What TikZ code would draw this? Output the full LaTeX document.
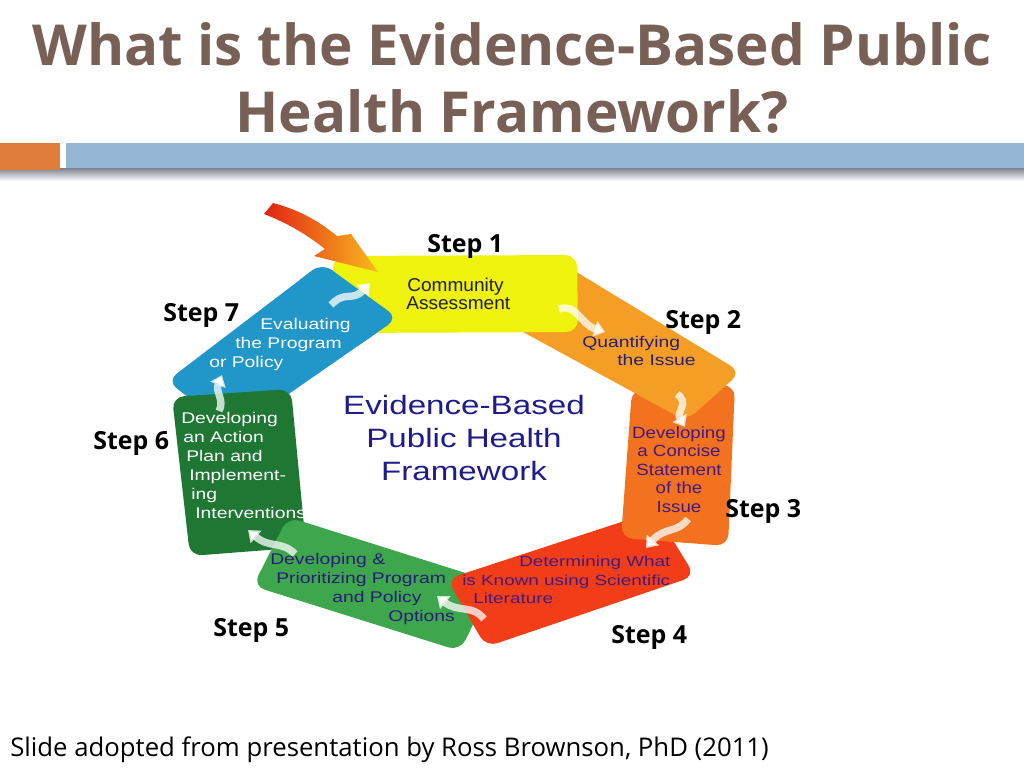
\documentclass[tikz,border=0pt]{standalone}
\usepackage{fontspec}
\setmainfont{Open Sans}
\newfontfamily\bxA{Liberation Sans}[FakeStretch=1.25]
\newfontfamily\bxB{Liberation Sans}[FakeStretch=1.03]
\newfontfamily\bxC{Liberation Sans}[FakeStretch=1.15]
\newfontfamily\bxD{Liberation Sans}[FakeStretch=1.3]
\newfontfamily\bxE{Liberation Sans}[FakeStretch=1.25]
\usetikzlibrary{arrows.meta}
\newlength\pxu \setlength\pxu{0.75pt}
\definecolor{titlecol}{RGB}{120,96,86}
\definecolor{barorange}{RGB}{224,125,60}
\definecolor{barblue}{RGB}{148,182,210}
\definecolor{barshadow}{RGB}{125,130,140}
\definecolor{cone}{RGB}{239,242,12}
\definecolor{ctwo}{RGB}{245,158,38}
\definecolor{cthree}{RGB}{242,114,32}
\definecolor{cfour}{RGB}{242,62,24}
\definecolor{cfive}{RGB}{62,166,76}
\definecolor{csix}{RGB}{30,120,52}
\definecolor{cseven}{RGB}{33,150,200}
\definecolor{txtone}{RGB}{35,30,70}
\definecolor{txtnavy}{RGB}{40,30,120}
\definecolor{txtpurple}{RGB}{70,25,125}
\definecolor{centercol}{RGB}{30,28,140}
\definecolor{arrowred}{RGB}{225,35,20}
\definecolor{arrowdark}{RGB}{200,20,15}
\definecolor{arrowyel}{RGB}{250,185,30}
\tikzset{
  band/.style={rounded corners=9pt},
  steplabel/.style={font=\fontsize{18.7}{22}\selectfont\bfseries, anchor=base west, inner sep=0pt, text=black},
  boxtext/.style={inner sep=0pt, anchor=north west, align=left},
  flowarrow/.style={draw=white, draw opacity=0.75, line width=5.5pt, -{Triangle[length=8pt,width=12pt]}},
  titletext/.style={font=\fontsize{42.4}{50}\selectfont\bfseries, text=titlecol, anchor=base, inner sep=0pt},
}
\newcommand\shapeseven{(167,381) -- (322,263) -- (398,318) -- (234,432) -- cycle}
\begin{document}
\begin{tikzpicture}[x=0.75pt,y=-0.75pt]
\useasboundingbox (0,0) rectangle (1024,768);
\fill[white] (0,0) rectangle (1024,768);

% title
\node[titletext] (t1) at (512,65) {What is the Evidence-Based Public};
\node[titletext] (t2) at (512,132) {Health Framework?};

% bar
\shade[top color=barshadow, bottom color=white] (0,168) rectangle (1024,181);
\fill[barorange] (0,143) rectangle (60,170);
\fill[barblue] (66,143) rectangle (1024,168);

% bands (bottom to top)
\fill[cseven, band] \shapeseven;
\fill[csix, band] (172,397) -- (291,389) -- (306,547) -- (190,556) -- cycle;
\fill[cfive, band] (288,517) -- (494,582) -- (460,651) -- (253,586) -- cycle;
\fill[cfour, band] (447,579) -- (655,511) -- (695,576) -- (486,647) -- cycle;
\fill[cthree, band] (632,389) -- (735,385) -- (728,546) -- (621,538) -- cycle;
\fill[ctwo, band] (560,262) -- (741,372) -- (686,421) -- (512,326) -- cycle;
\fill[cone, band] (333,256) -- (577,255) -- (578,332) -- (333,333) -- cycle;
\begin{scope}
  \clip (300,240) rectangle (420,345);
  \fill[cseven, band] \shapeseven;
\end{scope}

% big entry arrow
\shade[left color=arrowred, middle color=arrowdark, right color=arrowyel]
  (273,203) .. controls (300,210) and (320,222) .. (337,236) -- (351,234) -- (378,272)
  -- (314,256) -- (325,249) .. controls (310,237) and (290,224) .. (264,214) -- cycle;

% flow arrows
\coordinate (a71) at (331,305); \coordinate (b71) at (370,283);
\coordinate (a12) at (559,309); \coordinate (b12) at (605,332);
\coordinate (a23) at (677,394); \coordinate (b23) at (685,427);
\coordinate (a34) at (688,519); \coordinate (b34) at (646,548);
\coordinate (a45) at (484,619); \coordinate (b45) at (437,596);
\coordinate (a56) at (295,554); \coordinate (b56) at (248,530);
\coordinate (a67) at (219,411); \coordinate (b67) at (222,375);
\draw[flowarrow] (a71) .. controls (345,290) and (352,302) .. (b71);
\draw[flowarrow] (a12) .. controls (577,303) and (580,324) .. (b12);
\draw[flowarrow] (a23) .. controls (690,403) and (676,412) .. (b23);
\draw[flowarrow] (a34) .. controls (678,533) and (664,527) .. (b34);
\draw[flowarrow] (a45) .. controls (472,604) and (458,613) .. (b45);
\draw[flowarrow] (a56) .. controls (281,540) and (270,549) .. (b56);
\draw[flowarrow] (a67) .. controls (225,400) and (215,392) .. (b67);

% box texts
\node[boxtext, text=txtone, font=\bxB\fontsize{13.9}{13.5}\selectfont] (s1t) at (406,278)
  {\hspace*{1\pxu}Community\\Assessment};
\node[boxtext, text=txtnavy, font=\bxA\fontsize{11.6}{13.5}\selectfont] (s2t) at (582,336)
  {Quantifying\\\hspace*{35\pxu}the Issue};
\node[inner sep=0pt, anchor=north, align=center, text=txtpurple, font=\bxC\fontsize{12.2}{13.9}\selectfont] (s3t) at (679,426)
  {Developing\\a Concise\\Statement\\of the\\Issue};
\node[boxtext, text=txtpurple, font=\bxD\fontsize{10.9}{13.9}\selectfont] (s4t) at (462,556)
  {\hspace*{57\pxu}Determining What\\is Known using Scientific\\\hspace*{11\pxu}Literature};
\node[boxtext, text=txtnavy, font=\bxA\fontsize{11.6}{14.25}\selectfont] (s5t) at (270,553)
  {Developing \&\\\hspace*{6\pxu}Prioritizing Program\\\hspace*{62\pxu}and Policy\\\hspace*{118\pxu}Options};
\node[boxtext, text=white, font=\bxA\fontsize{11.6}{14.25}\selectfont] (s6t) at (181,412)
  {Developing\\\hspace*{2\pxu}an Action\\\hspace*{5\pxu}Plan and\\\hspace*{8\pxu}Implement-\\\hspace*{10\pxu}ing\\\hspace*{14\pxu}Interventions};
\node[boxtext, text=white, font=\bxA\fontsize{11.6}{14.25}\selectfont] (s7t) at (209,318)
  {\hspace*{51\pxu}Evaluating\\\hspace*{26\pxu}the Program\\or Policy};

% centre text
\node[inner sep=0pt, anchor=north, align=center, text=centercol, font=\bxE\fontsize{19.9}{24.75}\selectfont] (centre) at (464,395)
  {Evidence-Based\\Public Health\\Framework};

% step labels
\node[steplabel] (l1) at (427,252) {Step 1};
\node[steplabel] (l2) at (665,328) {Step 2};
\node[steplabel] (l3) at (725,517) {Step 3};
\node[steplabel] (l4) at (611,643) {Step 4};
\node[steplabel] (l5) at (213,636) {Step 5};
\node[steplabel] (l6) at (93,449) {Step 6};
\node[steplabel] (l7) at (163,321) {Step 7};

% footer
\node[anchor=base west, inner sep=0pt, font=\fontsize{19.3}{23}\selectfont] (foot) at (10,756)
  {Slide adopted from presentation by Ross Brownson, PhD (2011)};
\end{tikzpicture}
\end{document}
